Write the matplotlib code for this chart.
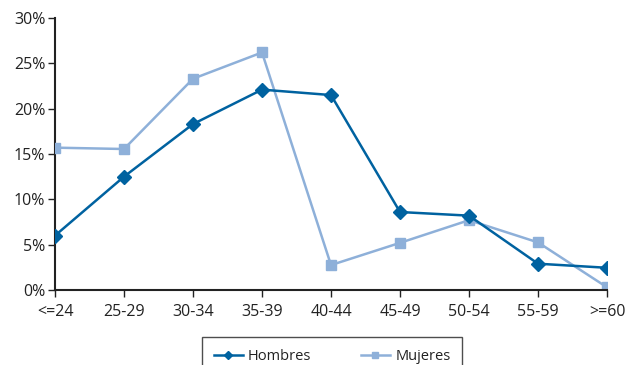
import matplotlib
matplotlib.use("Agg")
import matplotlib.pyplot as plt
from matplotlib.ticker import FuncFormatter

categories = ["<=24", "25-29", "30-34", "35-39", "40-44", "45-49", "50-54", "55-59", ">=60"]
hombres = [6.0, 12.5, 18.3, 22.1, 21.5, 8.6, 8.2, 2.9, 2.45]
mujeres = [15.7, 15.55, 23.3, 26.2, 2.75, 5.2, 7.7, 5.25, 0.3]
yticks = [0, 5, 10, 15, 20, 25, 30]

dark = "#0062a0"
light = "#8eb0d9"
text_color = "#222222"

plt.rcParams["font.family"] = ["Open Sans", "DejaVu Sans"]

fig = plt.figure(figsize=(6.29, 3.65), dpi=100)
ax = fig.add_axes([55 / 629, 1 - 290 / 365, (607 - 55) / 629, (290 - 18) / 365])

x = list(range(len(categories)))
ax.plot(x, mujeres, color=light, lw=1.8, marker="s", ms=7.5, label="Mujeres", zorder=3)
ax.plot(x, hombres, color=dark, lw=1.8, marker="D", ms=7.5, label="Hombres", zorder=4)

ax.set_xlim(0, len(categories) - 1)
ax.set_ylim(0, 30)
ax.set_xticks(x)
ax.set_xticklabels(categories)
ax.set_yticks(yticks)
ax.yaxis.set_major_formatter(FuncFormatter(lambda v, p: f"{v:.0f}%"))

for side in ["top", "right"]:
    ax.spines[side].set_visible(False)
for side in ["left", "bottom"]:
    ax.spines[side].set_color("#222222")
    ax.spines[side].set_linewidth(1.5)
ax.spines["bottom"].set_zorder(5)

ax.tick_params(axis="both", direction="out", length=5, width=1.0, color="#222222",
               labelsize=11.5, labelcolor=text_color)
ax.tick_params(axis="x", pad=5)
ax.tick_params(axis="y", pad=2)
for lbl in ax.get_xticklabels() + ax.get_yticklabels():
    lbl.set_clip_on(False)

handles, labels = ax.get_legend_handles_labels()
order = [1, 0]
leg = fig.legend([handles[i] for i in order], [labels[i] for i in order],
                 loc="upper left", bbox_to_anchor=(202 / 629, 1 - 337 / 365),
                 ncol=2, frameon=True, fancybox=False, fontsize=10.5,
                 markerscale=0.6, handlelength=2.0, columnspacing=3.4,
                 borderpad=0.8, handletextpad=0.35, borderaxespad=0)
leg.get_frame().set_edgecolor("#222222")
leg.get_frame().set_linewidth(1.0)
for t in leg.get_texts():
    t.set_color(text_color)

fig.savefig("out.png", dpi=100)
